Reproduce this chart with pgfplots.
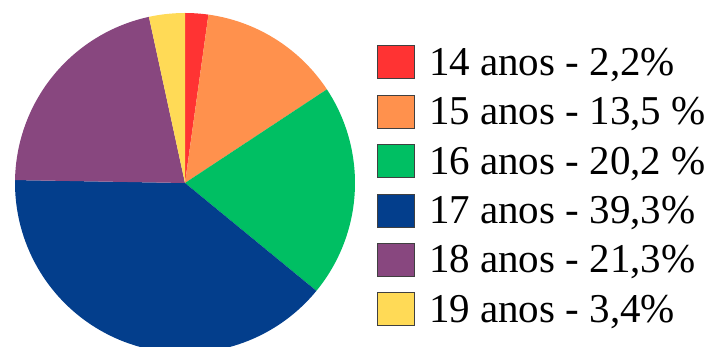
\documentclass[border=0pt]{standalone}
\usepackage{pgfplots}
\pgfplotsset{compat=1.18}
\usepackage{fontspec}
\setmainfont{Liberation Serif}
\newfontfamily\legfont{Liberation Serif}
\definecolor{c14}{HTML}{FF3333}
\definecolor{c15}{HTML}{FF914D}
\definecolor{c16}{HTML}{00BF63}
\definecolor{c17}{HTML}{033E8C}
\definecolor{c18}{HTML}{88477F}
\definecolor{c19}{HTML}{FFDA56}
% values (percent)
\newcommand\vA{2.2}
\newcommand\vB{13.5}
\newcommand\vC{20.2}
\newcommand\vD{39.3}
\newcommand\vE{21.3}
\newcommand\vF{3.4}
\pgfmathsetmacro\total{\vA+\vB+\vC+\vD+\vE+\vF}
\pgfmathsetmacro\degper{360/\total}
\xdef\cum{0}
\newcommand\pieslice[3]{%
  \pgfmathsetmacro\sa{90-\degper*\cum}%
  \pgfmathsetmacro\newcum{\cum+#1}%
  \pgfmathsetmacro\ea{90-\degper*\newcum}%
  \xdef\cum{\newcum}%
  \edef\temp{\noexpand\addplot[fill=#2, draw=none, domain=\ea:\sa, samples=80] ({185+170*cos(x)},{-183+170*sin(x)}) -- (185,-183) -- cycle;}%
  \temp
  \addlegendentry{\legfont #3}%
}
\begin{document}
\begin{tikzpicture}
\useasboundingbox (0,0) rectangle (710bp,347bp);
\begin{axis}[
  at={(0,0)}, anchor=south west,
  scale only axis, width=710bp, height=347bp,
  hide axis,
  xmin=0, xmax=710, ymin=-347, ymax=0,
  legend cell align=left,
  legend image code/.code={\draw[#1, draw=black!75, line width=1bp] (0bp,-16.5bp) rectangle (37bp,16.5bp);},
  legend style={
    at={(0.531,0.8689)}, anchor=north west,
    draw=none, fill=none, inner sep=0pt, outer sep=0pt,
    font=\fontsize{41bp}{41bp}\selectfont,
    nodes={inner sep=0pt},
    row sep=15.4bp, column sep=14bp,
  },
]
\pieslice{\vA}{c14}{14 anos - 2,2\%}
\pieslice{\vB}{c15}{15 anos - 13,5 \%}
\pieslice{\vC}{c16}{16 anos - 20,2 \%}
\pieslice{\vD}{c17}{17 anos - 39,3\%}
\pieslice{\vE}{c18}{18 anos - 21,3\%}
\pieslice{\vF}{c19}{19 anos - 3,4\%}
\end{axis}
\end{tikzpicture}
\end{document}
